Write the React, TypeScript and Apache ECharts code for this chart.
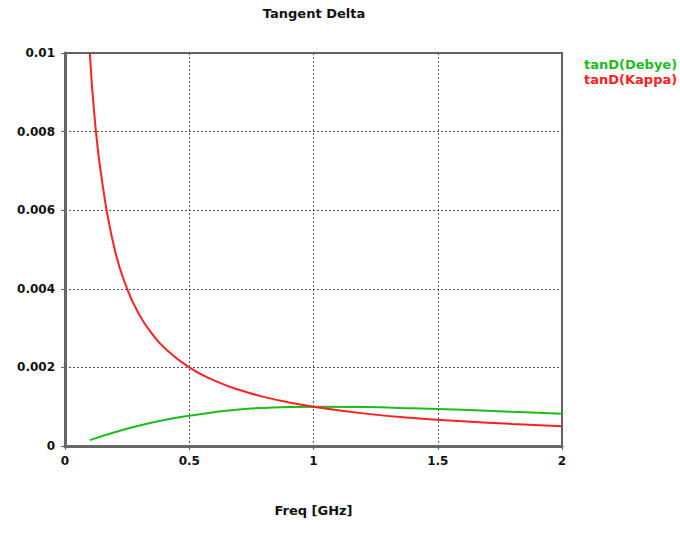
import React, { useEffect, useRef } from "react";
import * as echarts from "echarts";

const kappaFreq = [0.1, 0.12, 0.15, 0.2, 0.25, 0.3, 0.35, 0.4, 0.5, 0.6, 0.7, 0.8, 0.9, 1.0, 1.2, 1.4, 1.6, 1.8, 2.0];
const kappaVals = [0.01, 0.0083, 0.0067, 0.005, 0.004, 0.00333, 0.00286, 0.0025, 0.002, 0.00167, 0.00143, 0.00125, 0.00111, 0.001, 0.00083, 0.00071, 0.00063, 0.00056, 0.0005];
const debyeFreq = [0.1, 0.2, 0.3, 0.4, 0.5, 0.6, 0.7, 0.8, 0.9, 1.0, 1.2, 1.4, 1.6, 1.8, 2.0];
const debyeVals = [0.00015, 0.00035, 0.00052, 0.00066, 0.00077, 0.00086, 0.00093, 0.00097, 0.00099, 0.001, 0.00099, 0.00096, 0.00092, 0.00087, 0.00082];
const xTicks = [0, 0.5, 1, 1.5, 2];
const yTicks = [0, 0.002, 0.004, 0.006, 0.008, 0.01];

const FONT = "DejaVu Sans, Verdana, sans-serif";

export default function App() {
  const ref = useRef<HTMLDivElement>(null);
  useEffect(() => {
    if (!ref.current) return;
    const chart = echarts.init(ref.current, undefined, { renderer: "svg" });
    const labelStyle = { fontFamily: FONT, fontWeight: "bold", fontSize: 12, color: "#111" };
    chart.setOption({
      animation: false,
      backgroundColor: "#ffffff",
      title: {
        text: "Tangent Delta",
        left: 314,
        top: 7,
        padding: 0,
        textAlign: "center",
        textStyle: { fontFamily: FONT, fontWeight: "bold", fontSize: 13, color: "#111" },
      },
      legend: {
        orient: "vertical",
        left: 579,
        top: 58,
        padding: 0,
        itemWidth: 0,
        itemHeight: 0,
        itemGap: 2,
        icon: "none",
        textStyle: { fontFamily: FONT, fontWeight: "bold", fontSize: 13, padding: 0 },
        data: [
          { name: "tanD(Debye)", textStyle: { color: "#1cbc1c" } },
          { name: "tanD(Kappa)", textStyle: { color: "#ff2020" } },
        ],
      },
      grid: {
        left: 65,
        right: 118,
        top: 53,
        bottom: 101,
        show: true,
        borderColor: "#666",
        borderWidth: 2,
      },
      xAxis: {
        type: "value",
        min: 0,
        max: 2,
        interval: 0.5,
        name: "Freq [GHz]",
        nameLocation: "middle",
        nameGap: 58,
        nameTextStyle: { ...labelStyle, fontSize: 13 },
        axisLine: { lineStyle: { color: "#666", width: 3 } },
        axisTick: { show: true, length: 4, lineStyle: { color: "#666" } },
        axisLabel: { ...labelStyle, margin: 9, formatter: (v: number) => (xTicks.includes(v) ? String(v) : "") },
        splitLine: { show: true, lineStyle: { color: "#555", type: [2, 2], width: 1 } },
      },
      yAxis: {
        type: "value",
        min: 0,
        max: 0.01,
        interval: 0.002,
        axisLine: { show: true, lineStyle: { color: "#666", width: 3 } },
        axisTick: { show: true, length: 4, lineStyle: { color: "#666" } },
        axisLabel: { ...labelStyle, margin: 10, formatter: (v: number) => (yTicks.some((t) => Math.abs(t - v) < 1e-9) ? String(+v.toFixed(3)) : "") },
        splitLine: { show: true, lineStyle: { color: "#555", type: [2, 2], width: 1 } },
      },
      series: [
        {
          name: "tanD(Debye)",
          type: "line",
          smooth: true,
          showSymbol: false,
          color: "#1cbc1c",
          lineStyle: { color: "#1cbc1c", width: 2 },
          data: debyeFreq.map((f, i) => [f, debyeVals[i]]),
        },
        {
          name: "tanD(Kappa)",
          type: "line",
          smooth: true,
          showSymbol: false,
          color: "#ff2020",
          lineStyle: { color: "#ff2020", width: 2 },
          data: kappaFreq.map((f, i) => [f, kappaVals[i]]),
        },
      ],
    });
    return () => chart.dispose();
  }, []);
  return <div ref={ref} style={{ width: 680, height: 547, position: "absolute", left: 0, top: 0 }} />;
}
